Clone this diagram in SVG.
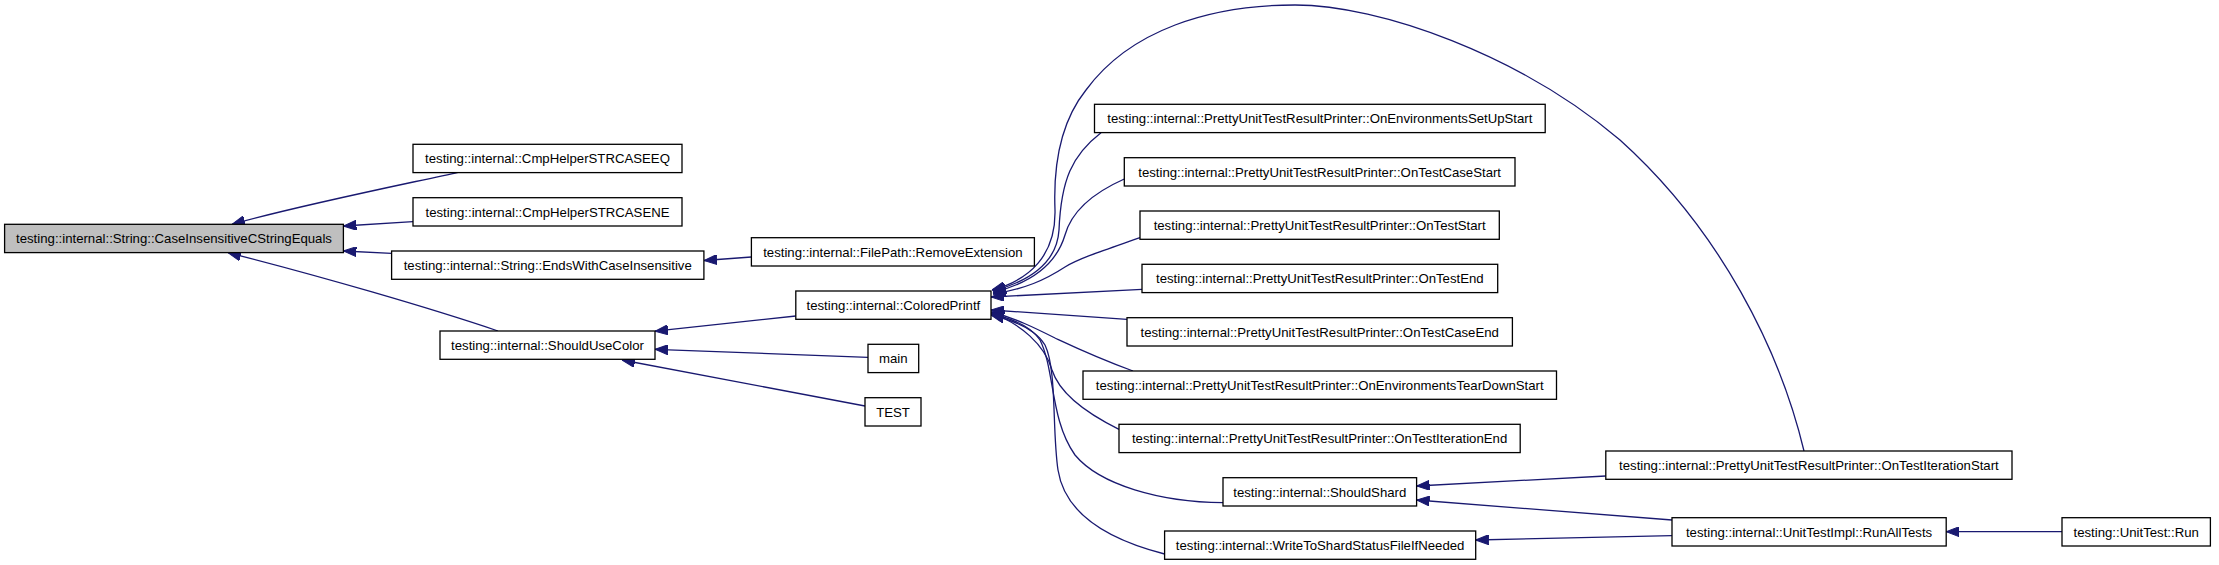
<svg xmlns="http://www.w3.org/2000/svg" width="2219" height="565" viewBox="0 0 2219 565">
<defs>
<style>
.n rect{fill:#ffffff;stroke:#000000;stroke-width:1.3}
.n.hl rect{fill:#bfbfbf}
.n text{font-family:"Liberation Sans",Arial,sans-serif;font-size:13.2px;fill:#000000;text-anchor:middle}
.e path{fill:none;stroke:#191970;stroke-width:1.3;marker-end:url(#ah)}
</style>
<marker id="ah" viewBox="0 0 13 10" refX="13" refY="5" markerWidth="13" markerHeight="10" markerUnits="userSpaceOnUse" orient="auto">
<path d="M0,0 L13,5 L0,10 z" fill="#191970" stroke="#191970" stroke-width="1"/>
</marker>
</defs>
<rect width="2219" height="565" fill="#ffffff"/>
<g id="connectors" class="e">
<path d="M458,172.3 C420,181 300,205 232,224.3"/>
<path d="M413,221.7 L343.4,226"/>
<path d="M391.6,253.3 L343.4,251"/>
<path d="M498,331 C430,308 320,276 228,252.7"/>
<path d="M751.4,257 L704,260.5"/>
<path d="M795.8,316 L655,331.2"/>
<path d="M868,357.3 L655,349.3"/>
<path d="M865,406 L622,360"/>
<path d="M1101,132.7 C1072,155 1061,180 1059,230 C1057,262 1030,281 993,291"/>
<path d="M1124.3,179 C1095,192 1072,210 1065,235 C1057,262 1035,282 993,292.5"/>
<path d="M1140,237.7 C1105,250 1080,258 1065,267 C1045,280 1025,289 993,294"/>
<path d="M1142,289.3 L991,297"/>
<path d="M1127,319.3 L991,310"/>
<path d="M1133,371 C1095,357 1070,345 1055,338 C1035,328 1015,318 991,312"/>
<path d="M1119,429.3 C1090,415 1060,395 1052,370 C1045,345 1020,323 991,313"/>
<path d="M1223,502.7 C1160,502 1100,485 1075,455 C1050,420 1055,370 1040,340 C1030,325 1010,318 991,314"/>
<path d="M1164.6,554 C1110,540 1065,515 1058,470 C1052,430 1057,370 1045,345 C1035,328 1012,320 991,315"/>
<path d="M1804,451 C1780,350 1720,230 1620,140 C1520,55 1380,5 1295,5 C1210,5 1130,30 1086,90 C1062,120 1053,160 1055,210 C1056,255 1030,280 992,290"/>
<path d="M1605.8,476 L1416.6,486"/>
<path d="M1672,520 L1416.6,500"/>
<path d="M1672,535.7 L1475.7,540"/>
<path d="M2062,531.7 L1946.2,531.7"/>
</g>
<g id="n_main" class="n hl"><rect x="4.6" y="224.3" width="338.8" height="28.3"/><text x="174" y="243.3">testing::internal::String::CaseInsensitiveCStringEquals</text></g>
<g id="n_eq" class="n"><rect x="413" y="144.3" width="269" height="28.3"/><text x="547.5" y="163.3">testing::internal::CmpHelperSTRCASEEQ</text></g>
<g id="n_ne" class="n"><rect x="413" y="197.7" width="269" height="28.3"/><text x="547.5" y="216.7">testing::internal::CmpHelperSTRCASENE</text></g>
<g id="n_ends" class="n"><rect x="391.6" y="251" width="312.3" height="28.3"/><text x="547.75" y="270">testing::internal::String::EndsWithCaseInsensitive</text></g>
<g id="n_suc" class="n"><rect x="440" y="331" width="215" height="28.3"/><text x="547.5" y="350">testing::internal::ShouldUseColor</text></g>
<g id="n_rem" class="n"><rect x="751.4" y="237.7" width="283" height="28.3"/><text x="892.9" y="256.7">testing::internal::FilePath::RemoveExtension</text></g>
<g id="n_cp" class="n"><rect x="795.8" y="291" width="195.2" height="28.3"/><text x="893.4" y="310">testing::internal::ColoredPrintf</text></g>
<g id="n_mainfn" class="n"><rect x="868" y="344.3" width="50.7" height="28.3"/><text x="893.35" y="363.3">main</text></g>
<g id="n_test" class="n"><rect x="865" y="397.7" width="56" height="28.3"/><text x="893" y="416.7">TEST</text></g>
<g id="n_esus" class="n"><rect x="1094.5" y="104.3" width="450.7" height="28.3"/><text x="1319.85" y="123.3">testing::internal::PrettyUnitTestResultPrinter::OnEnvironmentsSetUpStart</text></g>
<g id="n_tcs" class="n"><rect x="1124.3" y="157.7" width="390.7" height="28.3"/><text x="1319.65" y="176.7">testing::internal::PrettyUnitTestResultPrinter::OnTestCaseStart</text></g>
<g id="n_ts" class="n"><rect x="1140" y="211" width="359.3" height="28.3"/><text x="1319.65" y="230">testing::internal::PrettyUnitTestResultPrinter::OnTestStart</text></g>
<g id="n_te" class="n"><rect x="1142" y="264.3" width="355.7" height="28.3"/><text x="1319.85" y="283.3">testing::internal::PrettyUnitTestResultPrinter::OnTestEnd</text></g>
<g id="n_tce" class="n"><rect x="1127" y="317.7" width="385.4" height="28.3"/><text x="1319.7" y="336.7">testing::internal::PrettyUnitTestResultPrinter::OnTestCaseEnd</text></g>
<g id="n_etds" class="n"><rect x="1083" y="371" width="473.5" height="28.3"/><text x="1319.75" y="390">testing::internal::PrettyUnitTestResultPrinter::OnEnvironmentsTearDownStart</text></g>
<g id="n_tie" class="n"><rect x="1119" y="424.3" width="401.2" height="28.3"/><text x="1319.6" y="443.3">testing::internal::PrettyUnitTestResultPrinter::OnTestIterationEnd</text></g>
<g id="n_ss" class="n"><rect x="1223" y="477.7" width="193.6" height="28.3"/><text x="1319.8" y="496.7">testing::internal::ShouldShard</text></g>
<g id="n_wts" class="n"><rect x="1164.6" y="531" width="311.1" height="28.3"/><text x="1320.15" y="550">testing::internal::WriteToShardStatusFileIfNeeded</text></g>
<g id="n_tis" class="n"><rect x="1605.8" y="451" width="406.2" height="28.3"/><text x="1808.9" y="470">testing::internal::PrettyUnitTestResultPrinter::OnTestIterationStart</text></g>
<g id="n_rat" class="n"><rect x="1672" y="517.7" width="274.2" height="28.3"/><text x="1809.1" y="536.7">testing::internal::UnitTestImpl::RunAllTests</text></g>
<g id="n_run" class="n"><rect x="2062" y="517.7" width="148.4" height="28.3"/><text x="2136.2" y="536.7">testing::UnitTest::Run</text></g>
</svg>
